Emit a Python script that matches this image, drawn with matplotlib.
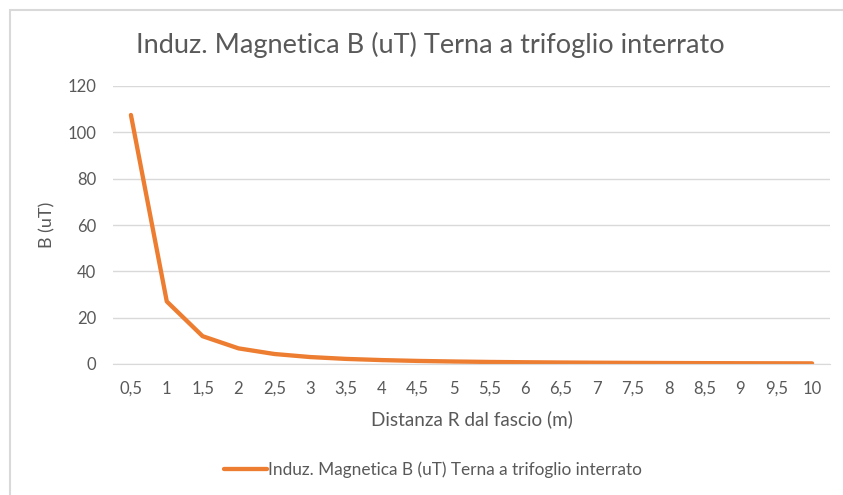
import matplotlib
matplotlib.use('Agg')
import matplotlib.pyplot as plt
from matplotlib.patches import Rectangle

plt.rcParams['font.family'] = ['Lato', 'DejaVu Sans']

# distanza R (m) e induzione B (uT)
distanze = ['0,5', '1', '1,5', '2', '2,5', '3', '3,5', '4', '4,5', '5',
            '5,5', '6', '6,5', '7', '7,5', '8', '8,5', '9', '9,5', '10']
b_ut = [107.5, 27, 12, 6.75, 4.32, 3.0, 2.2, 1.69, 1.33, 1.08,
        0.89, 0.75, 0.64, 0.55, 0.48, 0.42, 0.37, 0.33, 0.30, 0.27]
yticks = [0, 20, 40, 60, 80, 100, 120]

titolo = 'Induz. Magnetica B (uT) Terna a trifoglio interrato'
grigio = '#595959'

fig = plt.figure(figsize=(8.43, 4.95), dpi=100)
# cornice del grafico (destra e sotto fuori dall'immagine)
fig.patches.append(Rectangle((9.5 / 843, -0.1), 1.0, 1.1 - 9.5 / 495,
                             transform=fig.transFigure, fill=False,
                             edgecolor='#D9D9D9', linewidth=1.5))

ax = fig.add_axes([113 / 843, 1 - 364 / 495, 717 / 843, 278 / 495])
x = list(range(len(distanze)))
ax.plot(x, b_ut, color='#ED7D31', linewidth=3.1, solid_joinstyle='round',
        solid_capstyle='round', label=titolo)

ax.set_xlim(-0.5, len(distanze) - 0.5)
ax.set_ylim(0, 120)
ax.set_yticks(yticks)
ax.set_xticks(x)
ax.set_xticklabels(distanze)
ax.grid(axis='y', color='#D9D9D9', linewidth=1)
ax.set_axisbelow(True)
for s in ['top', 'right', 'left']:
    ax.spines[s].set_visible(False)
ax.spines['bottom'].set_color('#D9D9D9')
ax.tick_params(length=0, colors=grigio, labelsize=12)
ax.tick_params(axis='x', pad=12)
ax.tick_params(axis='y', pad=12)

ax.set_xlabel('Distanza R dal fascio (m)', color=grigio, fontsize=13.6, labelpad=10)
ax.set_ylabel('B (uT)', color=grigio, fontsize=13, labelpad=9)
fig.text(0.511, 1 - 45 / 495, titolo, ha='center', va='center',
         color=grigio, fontsize=19.5)

leg = fig.legend(loc='center', bbox_to_anchor=(0.5135, 1 - 470 / 495), frameon=False,
                 fontsize=12.4, handlelength=2.5, handletextpad=0.1)
for t in leg.get_texts():
    t.set_color(grigio)

fig.savefig('out.png', dpi=100)
